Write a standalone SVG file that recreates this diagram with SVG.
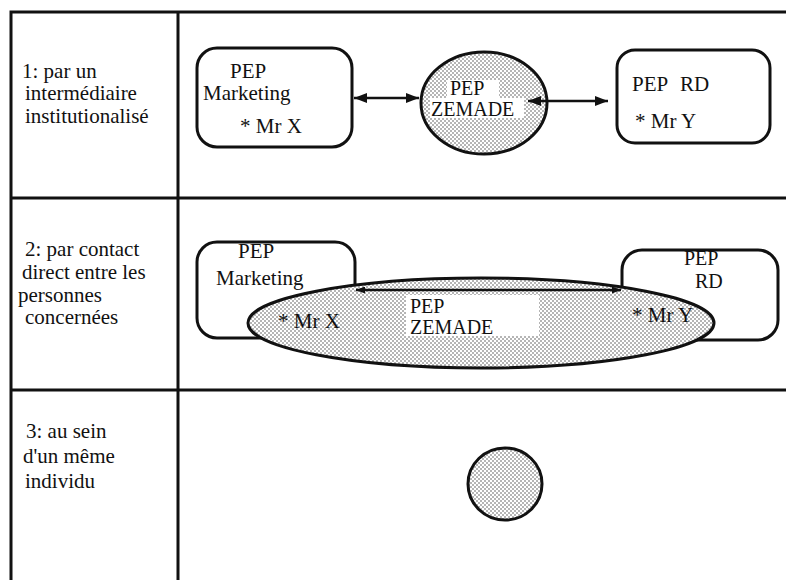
<svg xmlns="http://www.w3.org/2000/svg" width="786" height="580" viewBox="0 0 786 580">
<defs>
<pattern id="dots" width="4" height="4" patternUnits="userSpaceOnUse">
<rect width="4" height="4" fill="#fff"/>
<circle cx="1" cy="1" r="0.7" fill="#333"/>
<circle cx="3" cy="3" r="0.7" fill="#333"/>
</pattern>
<marker id="ah" viewBox="0 0 13 10" refX="13" refY="5" markerWidth="13" markerHeight="10" markerUnits="userSpaceOnUse" orient="auto-start-reverse">
<path d="M0,0 L13,5 L0,10 Z" fill="#111"/>
</marker>
<marker id="ahs" viewBox="0 0 9 7" refX="9" refY="3.5" markerWidth="9" markerHeight="7" markerUnits="userSpaceOnUse" orient="auto-start-reverse">
<path d="M0,0 L9,3.5 L0,7 Z" fill="#111"/>
</marker>
</defs>
<style>
.t{font-family:"Liberation Serif","Times New Roman",serif;font-size:21px;fill:#111}
.s{font-size:20px}
.box{fill:#fff;stroke:#111;stroke-width:3}
.blob{fill:url(#dots);stroke:#111;stroke-width:3}
.grid{stroke:#111;stroke-width:3;fill:none}
.conn{stroke:#111;stroke-width:2.5;fill:none}
.wb{fill:#fff;stroke:none}
</style>
<rect width="786" height="580" fill="#fff"/>

<g id="table">
<path class="grid" d="M11,580 V12 H786 M178,12 V580 M11,198 H786 M11,390 H786"/>
</g>

<g id="row-labels">
<text class="t"><tspan x="22" y="78">1: par un</tspan><tspan x="25" y="100">intermédiaire</tspan><tspan x="25" y="123">institutionalisé</tspan></text>
<text class="t"><tspan x="25" y="256">2: par contact</tspan><tspan x="22" y="279">direct entre les</tspan><tspan x="18" y="302">personnes</tspan><tspan x="25" y="324">concernées</tspan></text>
<text class="t"><tspan x="26" y="438">3: au sein</tspan><tspan x="23" y="463">d'un même</tspan><tspan x="25" y="488">individu</tspan></text>
</g>

<g id="node-marketing-1">
<rect class="box" x="197" y="48" width="155" height="99" rx="20"/>
<text class="t" x="230" y="78">PEP</text>
<text class="t" x="203" y="100">Marketing</text>
<text class="t" x="240" y="133">* Mr X</text>
</g>

<g id="node-zemade-1">
<ellipse class="blob" cx="484" cy="103" rx="63" ry="51"/>
<rect class="wb" x="447" y="80" width="52" height="18"/>
<rect class="wb" x="430" y="98" width="94" height="20"/>
<text class="t s" x="450" y="95">PEP</text>
<text class="t s" x="431" y="116">ZEMADE</text>
</g>

<g id="node-rd-1">
<rect class="box" x="617" y="50" width="153" height="93" rx="18"/>
<text class="t" x="632" y="91">PEP</text>
<text class="t" x="680" y="91">RD</text>
<text class="t" x="635" y="128">* Mr Y</text>
</g>

<g id="node-marketing-2">
<rect class="box" x="197" y="242" width="158" height="96" rx="20"/>
<text class="t" x="238" y="258">PEP</text>
<text class="t" x="216" y="285">Marketing</text>
</g>

<g id="node-rd-2">
<rect class="box" x="622" y="250" width="156" height="90" rx="20"/>
<text class="t s" x="684" y="265">PEP</text>
<text class="t s" x="695" y="288">RD</text>
</g>

<g id="node-zemade-2">
<ellipse class="blob" cx="481" cy="323" rx="233" ry="45"/>
<rect class="wb" x="406" y="295" width="133" height="41"/>
<text class="t s" x="410" y="313">PEP</text>
<text class="t s" x="410" y="334">ZEMADE</text>
<text class="t" x="278" y="328">* Mr X</text>
<text class="t" x="632" y="322">* Mr Y</text>
</g>

<g id="node-zemade-3">
<ellipse class="blob" cx="505" cy="484" rx="37" ry="36"/>
</g>

<g id="connectors">
<line class="conn" x1="354" y1="98" x2="419" y2="98" marker-start="url(#ah)" marker-end="url(#ah)"/>
<line class="conn" x1="528" y1="101" x2="608" y2="101" marker-start="url(#ah)" marker-end="url(#ah)"/>
<line class="conn" x1="356" y1="290" x2="621" y2="290" marker-start="url(#ahs)" marker-end="url(#ahs)"/>
</g>
</svg>
